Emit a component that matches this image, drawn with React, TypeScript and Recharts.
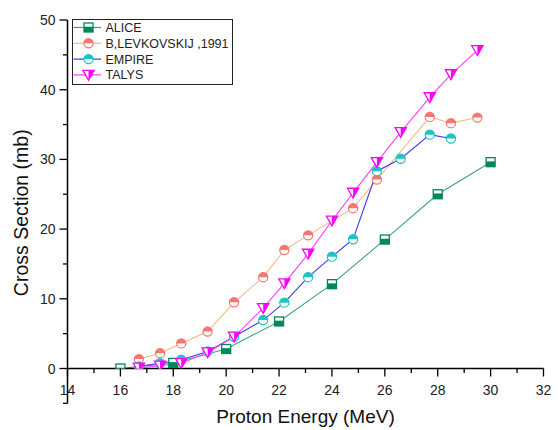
import React from 'react';
import { LineChart, Line, XAxis, YAxis, Legend, ReferenceLine } from 'recharts';

const FONT = '"Liberation Sans", Arial, Helvetica, sans-serif';

// ---- data ----
const aliceEnergy = [16, 18, 20, 22, 24, 26, 28, 30];
const aliceValues = [0, 0.8, 2.8, 6.75, 12.1, 18.5, 25.0, 29.6];

const levEnergy = [16.7, 17.5, 18.3, 19.3, 20.3, 21.4, 22.2, 23.1, 24.8, 25.7, 27.7, 28.5, 29.5];
const levValues = [1.35, 2.2, 3.6, 5.3, 9.5, 13.1, 17.0, 19.1, 23.0, 27.1, 36.1, 35.2, 36.0];

const empireEnergy = [16.7, 17.5, 18.3, 19.3, 20.3, 21.4, 22.2, 23.1, 24.0, 24.8, 25.7, 26.6, 27.7, 28.5];
const empireValues = [0.3, 0.75, 1.25, 2.45, 4.55, 6.95, 9.45, 13.1, 16.05, 18.55, 28.3, 30.1, 33.55, 33.0];

const talysEnergy = [16.7, 17.5, 18.3, 19.3, 20.3, 21.4, 22.2, 23.1, 24.0, 24.8, 25.7, 26.6, 27.7, 28.5, 29.5];
const talysValues = [0.1, 0.4, 0.75, 2.3, 4.55, 8.65, 12.2, 16.45, 21.2, 25.2, 29.6, 33.9, 38.9, 42.2, 45.65];

const seriesNames = ['ALICE', 'B,LEVKOVSKIJ ,1991', 'EMPIRE', 'TALYS'];

const xTicks = [14, 15, 16, 17, 18, 19, 20, 21, 22, 23, 24, 25, 26, 27, 28, 29, 30, 31, 32];
const yTicks = [0, 5, 10, 15, 20, 25, 30, 35, 40, 45, 50];

const toPoints = (xs: number[], ys: number[]) => xs.map((x, i) => ({ x, y: ys[i] }));

const aliceData = toPoints(aliceEnergy, aliceValues);
const levData = toPoints(levEnergy, levValues);
const empireData = toPoints(empireEnergy, empireValues);
const talysData = toPoints(talysEnergy, talysValues);

// ---- styles ----
const STYLES = [
  { line: '#3aa57d', marker: '#00875a', shape: 'square' },
  { line: '#f8b78c', marker: '#f7766f', shape: 'circle' },
  { line: '#3b3bef', marker: '#1fc2c6', shape: 'circle' },
  { line: '#ff3dff', marker: '#ff00ff', shape: 'triangle' },
];

const Marker = ({ cx, cy, shape, color }: { cx: number; cy: number; shape: string; color: string }) => {
  if (cx == null || cy == null || isNaN(cx) || isNaN(cy)) return null;
  if (shape === 'square') {
    const h = 4.5;
    return (
      <g>
        <rect x={cx - h} y={cy - h} width={2 * h} height={2 * h} fill="#fff" stroke={color} strokeWidth={1.3} />
        <rect x={cx - h} y={cy - 0.8} width={2 * h} height={h + 0.8} fill={color} />
      </g>
    );
  }
  if (shape === 'circle') {
    const r = 4.6;
    return (
      <g>
        <circle cx={cx} cy={cy} r={r} fill="#fff" stroke={color} strokeWidth={1.2} />
        <path d={`M ${cx - r} ${cy} A ${r} ${r} 0 0 1 ${cx + r} ${cy} Z`} fill={color} />
      </g>
    );
  }
  // triangle down, right half filled
  const w = 5.6;
  const top = cy - 4.6;
  const bot = cy + 5.2;
  return (
    <g>
      <polygon points={`${cx - w},${top} ${cx + w},${top} ${cx},${bot}`} fill="#fff" stroke={color} strokeWidth={1.3} strokeLinejoin="miter" />
      <polygon points={`${cx},${top} ${cx + w},${top} ${cx},${bot}`} fill={color} />
    </g>
  );
};

const makeDot = (idx: number) => (props: any) => (
  <Marker key={`d${idx}-${props.index}`} cx={props.cx} cy={props.cy} shape={STYLES[idx].shape} color={STYLES[idx].marker} />
);

const XTick = (props: any) => {
  const { x, y, payload } = props;
  const v = payload.value;
  const major = v % 2 === 0;
  return (
    <g>
      <line x1={x} x2={x} y1={y} y2={y + (major ? 8 : 4.5)} stroke="#000" strokeWidth={1.3} />
      {major && (
        <text x={x} y={y + 26} textAnchor="middle" fontSize={14} fontFamily={FONT} fill="#222">
          {v}
        </text>
      )}
    </g>
  );
};

const YTick = (props: any) => {
  const { x, y, payload } = props;
  const v = payload.value;
  const major = v % 10 === 0;
  return (
    <g>
      <line x1={x - (major ? 8 : 4.5)} x2={x} y1={y} y2={y} stroke="#000" strokeWidth={1.3} />
      {major && (
        <text x={x - 12} y={y + 5} textAnchor="end" fontSize={14} fontFamily={FONT} fill="#222">
          {v}
        </text>
      )}
    </g>
  );
};

const LegendBox = () => (
  <svg width={161} height={66} style={{ display: 'block' }}>
    <rect x={0.5} y={0.5} width={160} height={65} fill="#fff" stroke="#222" strokeWidth={1} />
    {seriesNames.map((name, i) => {
      const cy = 8.5 + i * 15.8;
      return (
        <g key={name}>
          <line x1={1.5} x2={29} y1={cy} y2={cy} stroke={STYLES[i].line} strokeWidth={1.2} />
          <Marker cx={16.5} cy={cy} shape={STYLES[i].shape} color={STYLES[i].marker} />
          <text x={33.5} y={cy + 4.5} fontSize={12.5} fontFamily={FONT} fill="#222">
            {name}
          </text>
        </g>
      );
    })}
  </svg>
);

const YLabel = (props: any) => {
  const vb = props.viewBox || {};
  const cx = 27.5;
  const cy = (vb.y ?? 20) + (vb.height ?? 348.5) / 2 + 18.5;
  return (
    <text
      x={cx}
      y={cy}
      transform={`rotate(-90, ${cx}, ${cy})`}
      textAnchor="middle"
      fontSize={19.5}
      fontFamily={FONT}
      fill="#111"
    >
      Cross Section (mb)
    </text>
  );
};

export default function App() {
  return (
    <div style={{ position: 'absolute', left: 0, top: 0, width: 558, height: 430, background: '#fff' }}>
      <LineChart width={558} height={430} margin={{ top: 20, right: 14.5, bottom: 0, left: 0 }}>
        <XAxis
          type="number"
          dataKey="x"
          domain={[14, 32]}
          ticks={xTicks}
          interval={0}
          allowDataOverflow
          height={61.5}
          tickSize={0}
          tickMargin={0}
          tickLine={false}
          tick={<XTick />}
          axisLine={{ stroke: '#000', strokeWidth: 1.5 }}
          label={{
            value: 'Proton Energy (MeV)',
            position: 'insideBottom',
            offset: 7,
            fontSize: 19,
            fontFamily: FONT,
            fill: '#111',
          }}
        />
        <YAxis
          type="number"
          dataKey="y"
          domain={[0, 50]}
          ticks={yTicks}
          interval={0}
          allowDataOverflow
          width={67.5}
          tickSize={0}
          tickMargin={0}
          tickLine={false}
          tick={<YTick />}
          axisLine={{ stroke: '#000', strokeWidth: 1.5 }}
          label={<YLabel />}
        />
        <ReferenceLine
          segment={[{ x: 14, y: 0 }, { x: 14, y: -5 }]}
          ifOverflow="visible"
          stroke="#000"
          strokeWidth={1.5}
        />
        <ReferenceLine
          segment={[{ x: 14, y: -5 }, { x: 13.83, y: -5 }]}
          ifOverflow="visible"
          stroke="#000"
          strokeWidth={1.3}
        />
        <Legend
          layout="vertical"
          align="center"
          verticalAlign="middle"
          content={() => <LegendBox />}
          wrapperStyle={{ left: 71.5, top: 19, width: 161, height: 66 }}
        />
        <Line
          data={aliceData}
          dataKey="y"
          name={seriesNames[0]}
          stroke={STYLES[0].line}
          strokeWidth={1.1}
          dot={makeDot(0)}
          activeDot={false}
          isAnimationActive={false}
        />
        <Line
          data={levData}
          dataKey="y"
          name={seriesNames[1]}
          stroke={STYLES[1].line}
          strokeWidth={1.1}
          dot={makeDot(1)}
          activeDot={false}
          isAnimationActive={false}
        />
        <Line
          data={empireData}
          dataKey="y"
          name={seriesNames[2]}
          stroke={STYLES[2].line}
          strokeWidth={1.1}
          dot={makeDot(2)}
          activeDot={false}
          isAnimationActive={false}
        />
        <Line
          data={talysData}
          dataKey="y"
          name={seriesNames[3]}
          stroke={STYLES[3].line}
          strokeWidth={1.1}
          dot={makeDot(3)}
          activeDot={false}
          isAnimationActive={false}
        />
      </LineChart>
    </div>
  );
}
